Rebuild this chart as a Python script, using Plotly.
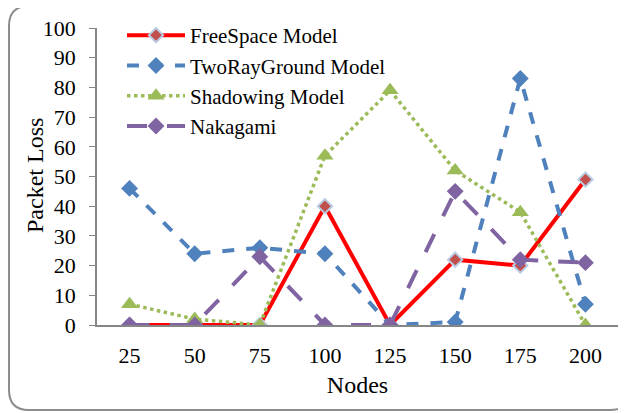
import plotly.graph_objects as go

nodes = ["25", "50", "75", "100", "125", "150", "175", "200"]
freespace = [0, 0, 0, 40, 0, 22, 20, 49]
tworay = [46, 24, 26, 24, 0, 1, 83, 7]
shadowing = [7, 2, 0, 57, 79, 52, 38, 0]
nakagami = [0, 0, 23, 0, 0, 45, 22, 21]

# page body adds an 8px offset; work in reference pixel coords and subtract it
OFF = 8
W, H = 626 - OFF, 413 - OFF
PL, PR, PT, PB = 97, 618, 28, 325  # plot area in reference pixels
L, R, T, B = PL - OFF, W - (PR - OFF), PT - OFF, H - (PB - OFF)
FONT = "Liberation Serif"

fig = go.Figure()
fig.add_trace(go.Scatter(x=nodes, y=freespace, name="FreeSpace Model", mode="lines+markers",
                         line=dict(color="#FF0000", width=4),
                         marker=dict(symbol="diamond", size=11, color="#C0504D",
                                     line=dict(color="#B9CDE5", width=2))))
fig.add_trace(go.Scatter(x=nodes, y=tworay, name="TwoRayGround Model", mode="lines+markers",
                         line=dict(color="#4F81BD", width=4, dash="dash"),
                         marker=dict(symbol="diamond", size=13, color="#4F81BD")))
fig.add_trace(go.Scatter(x=nodes, y=shadowing, name="Shadowing Model", mode="lines+markers",
                         line=dict(color="#9BBB59", width=3.5, dash="dot"),
                         marker=dict(symbol="triangle-up", size=15, color="#9BBB59")))
fig.add_trace(go.Scatter(x=nodes, y=nakagami, name="Nakagami", mode="lines+markers",
                         line=dict(color="#8064A2", width=4, dash="longdash"),
                         marker=dict(symbol="diamond", size=13, color="#8064A2")))

pw, ph = PR - PL, PB - PT
def px(x):
    return (x - PL) / pw
def py(y):
    return (PB - y) / ph

x0, x1, y0, y1, r = 9, 630, 6, 410, 20
path = (f"M {px(x0 + r)} {py(y0)} L {px(x1 - r)} {py(y0)} "
        f"Q {px(x1)} {py(y0)} {px(x1)} {py(y0 + r)} "
        f"L {px(x1)} {py(y1 - r)} Q {px(x1)} {py(y1)} {px(x1 - r)} {py(y1)} "
        f"L {px(x0 + r)} {py(y1)} Q {px(x0)} {py(y1)} {px(x0)} {py(y1 - r)} "
        f"L {px(x0)} {py(y0 + r)} Q {px(x0)} {py(y0)} {px(x0 + r)} {py(y0)} Z")

fig.update_layout(
    width=W, height=H,
    margin=dict(l=L, r=R, t=T, b=B, autoexpand=False),
    paper_bgcolor="white", plot_bgcolor="white",
    font=dict(family=FONT, size=22, color="black"),
    showlegend=True,
    legend=dict(x=px(122), y=py(15), xanchor="left", yanchor="top",
                bgcolor="rgba(0,0,0,0)", font=dict(family=FONT, size=21),
                tracegroupgap=0, itemwidth=58),
    shapes=[dict(type="path", xref="paper", yref="paper", path=path,
                 line=dict(color="#8C8C8C", width=2), layer="below")],
    annotations=[dict(text="Packet Loss", xref="paper", yref="paper",
                      x=px(35), y=py(176), textangle=-90, showarrow=False,
                      xanchor="center", yanchor="middle",
                      font=dict(family=FONT, size=24))],
    xaxis=dict(type="category", range=[-0.5, 7.5], showgrid=False, zeroline=False,
               showline=True, linecolor="#868686", linewidth=1.5, ticks="",
               ticklabelstandoff=10,
               title=dict(text="Nodes", font=dict(family=FONT, size=24), standoff=9)),
    yaxis=dict(range=[0, 100], dtick=10, showgrid=False, zeroline=False,
               showline=True, linecolor="#868686", linewidth=1.5, ticks="outside",
               ticklen=6, tickcolor="#868686", ticklabelstandoff=9),
)

fig.write_html("out.html")
